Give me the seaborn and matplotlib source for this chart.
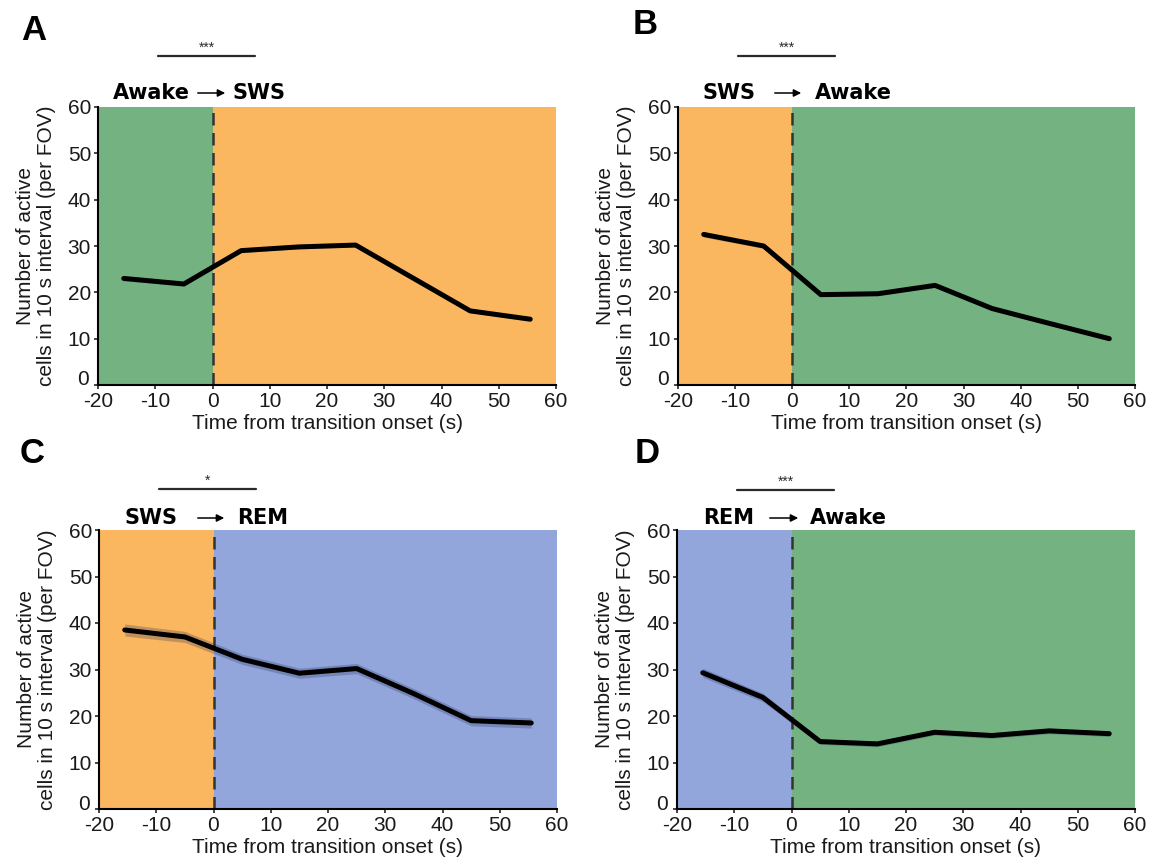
import numpy as np
import pandas as pd
import matplotlib
matplotlib.use("Agg")
import matplotlib.pyplot as plt
import matplotlib.transforms as mtransforms
import seaborn as sns

# ---------------- data ----------------
time_s = [-15.5, -5, 5, 15, 25, 35, 45, 55.5]

mean_A = [23.0, 21.8, 29.0, 29.8, 30.2, 23.1, 16.0, 14.2]
sem_A = [0.5, 0.4, 0.4, 0.4, 0.4, 0.4, 0.4, 0.4]

mean_B = [32.5, 30.0, 19.5, 19.7, 21.5, 16.5, 13.3, 10.0]
sem_B = [0.6, 0.5, 0.4, 0.4, 0.4, 0.4, 0.4, 0.4]

mean_C = [38.5, 37.0, 32.2, 29.2, 30.2, 24.8, 19.0, 18.5]
sem_C = [1.3, 1.2, 1.1, 1.1, 1.1, 1.1, 1.1, 1.1]

mean_D = [29.3, 24.0, 14.5, 14.0, 16.5, 15.8, 16.8, 16.2]
sem_D = [1.0, 0.9, 0.6, 0.6, 0.6, 0.6, 0.6, 0.6]

panel_letters = ["A", "B", "C", "D"]
pre_states = ["Awake", "SWS", "SWS", "REM"]
post_states = ["SWS", "Awake", "REM", "Awake"]
significance = ["***", "***", "*", "***"]
sig_span = [-9.5, 7.5]

x_ticks = [-20, -10, 0, 10, 20, 30, 40, 50, 60]
y_ticks = [0, 10, 20, 30, 40, 50, 60]

state_colors = {"Awake": "#74B281", "SWS": "#FBB660", "REM": "#93A6DC"}

xlabel = "Time from transition onset (s)"
ylabel = "Number of active\ncells in 10 s interval (per FOV)"

# ---------------- style ----------------
sns.set_style("ticks")
plt.rcParams["font.family"] = ["Liberation Sans", "DejaVu Sans"]
plt.rcParams["axes.linewidth"] = 1.5
plt.rcParams["axes.unicode_minus"] = False

W, H = 1151, 858
fig = plt.figure(figsize=(W / 100, H / 100), dpi=100)


def fx(x):
    return x / W


def fy(y):
    return 1 - y / H


def rect(l, t, r, b):
    return [l / W, 1 - b / H, (r - l) / W, (b - t) / H]


# axes rectangles (pixel layout)
rects = [rect(98, 107, 556, 385), rect(678, 107, 1135, 385),
         rect(99, 530, 557, 809), rect(677, 530, 1135, 809)]
means = [mean_A, mean_B, mean_C, mean_D]
sems = [sem_A, sem_B, sem_C, sem_D]
letter_pos = [(21, 40), (633, 34), (20, 463), (635, 463)]
title_pos = [  # (pre end x, arrow start, arrow end, post start x, y)
    (190, 195, 228, 232, 93),
    (756, 772, 804, 815, 93),
    (178, 195, 227, 237, 518),
    (754, 767, 801, 810, 518),
]
sig_y = [1.183, 1.183, 1.147, 1.143]

text_color = "#1a1a1a"

for i in range(4):
    ax = fig.add_axes(rects[i])
    ax.set_xlim(-20, 60)
    ax.set_ylim(0, 60)
    ax.axvspan(-20, 0, color=state_colors[pre_states[i]], lw=0, zorder=0)
    ax.axvspan(0, 60, color=state_colors[post_states[i]], lw=0, zorder=0)
    ax.axvline(0, color="#333333", ls=(0, (5, 3)), lw=1.8, zorder=1)

    df = pd.DataFrame({"time": time_s, "mean": means[i], "sem": sems[i]})
    ax.fill_between(df["time"], df["mean"] - df["sem"], df["mean"] + df["sem"],
                    color="#1b2550", alpha=0.25, lw=0, zorder=2)
    sns.lineplot(data=df, x="time", y="mean", ax=ax, color="black", lw=3.6,
                 zorder=3, solid_capstyle="round", solid_joinstyle="round")

    ax.set_xticks(x_ticks)
    ax.set_yticks(y_ticks)
    ax.tick_params(axis="both", direction="out", length=3, width=1.2,
                   labelsize=15, labelcolor=text_color, pad=2)
    sns.despine(ax=ax)
    ax.spines["left"].set_color("black")
    ax.spines["bottom"].set_color("black")

    # raise the "0" y tick label slightly, as in the reference
    zero_lbl = ax.get_yticklabels()[0]
    zero_lbl.set_transform(zero_lbl.get_transform() +
                           mtransforms.ScaledTranslation(-2 / 100, 7 / 100,
                                                         fig.dpi_scale_trans))

    ax.set_xlabel(xlabel, fontsize=15, color=text_color)
    ax.xaxis.set_label_coords(0.5, -0.105)
    ax.set_ylabel(ylabel, fontsize=15, color=text_color, linespacing=1.1)
    ax.yaxis.set_label_coords(-0.092, 0.5)

    # significance bar
    trans = ax.get_xaxis_transform()
    ax.plot(sig_span, [sig_y[i], sig_y[i]], transform=trans, color="#2a2a2a",
            lw=1.6, clip_on=False)
    ax.text(np.mean(sig_span), sig_y[i] + 0.005, significance[i], transform=trans,
            ha="center", va="bottom", fontsize=10, color="#2a2a2a")

    # panel letter
    lx, ly = letter_pos[i]
    fig.text(fx(lx), fy(ly), panel_letters[i], ha="left", va="baseline",
             fontsize=25, fontweight="bold", color="black")

    # transition title
    pe, a0, a1, ps, ty = title_pos[i]
    fig.text(fx(pe), fy(ty), pre_states[i], ha="right", va="center",
             fontsize=15, fontweight="bold", family="DejaVu Sans", color="black")
    fig.text(fx(ps), fy(ty), post_states[i], ha="left", va="center",
             fontsize=15, fontweight="bold", family="DejaVu Sans", color="black")
    fig.add_artist(matplotlib.patches.FancyArrowPatch(
        (fx(a0), fy(ty)), (fx(a1), fy(ty)), transform=fig.transFigure,
        arrowstyle="-|>", mutation_scale=11, lw=1.1, color="black"))

fig.savefig("out.png", dpi=100)
